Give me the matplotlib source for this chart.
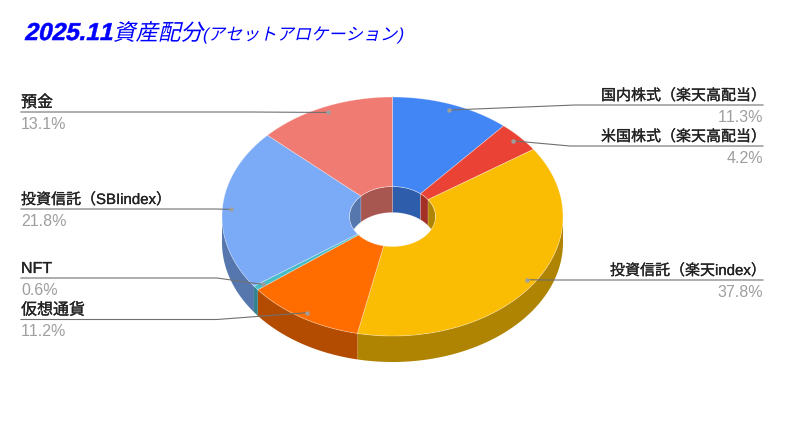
import numpy as np
from matplotlib import pyplot as plt
from matplotlib.patches import Polygon, Ellipse
from matplotlib.patheffects import AbstractPathEffect, withStroke
from matplotlib.transforms import Affine2D

names = ['国内株式（楽天高配当）', '米国株式（楽天高配当）', '投資信託（楽天index）', '仮想通貨', 'NFT', '投資信託（SBIindex）', '預金']
shares = [11.3, 4.2, 37.8, 11.2, 0.6, 21.8, 13.1]
colors = ['#4285f4', '#ea4335', '#fbbc04', '#ff6d01', '#46bdc6', '#7baaf7', '#f07b72']

plt.rcParams['text.kerning_factor'] = 6

# 画布上的饼图几何
CX, CY = 392.5, 216.5
RX, RY = 170.5, 119.5
HX, HY = 43.0, 30.0
DEPTH = 26.0
LINE_COLOR = '#707070'
FONT = ['Liberation Sans', 'Noto Sans CJK JP']
PX = 0.72  # 100dpi下 1px 对应的磅数

# 引线: 水平线的高度, 水平线到哪里, 文字靠哪边
leaders = [
    (105, 575, 'right'),
    (146, 570, 'right'),
    (280, 545, 'right'),
    (319.5, 217, 'left'),
    (278, 217, 'left'),
    (209, 215, 'left'),
    (112, 250, 'left'),
]


class Slant(AbstractPathEffect):
    """让CJK字体也能倾斜显示, heavy>0 时再描一圈加粗"""

    def __init__(self, y0, deg=13, heavy=0.0):
        super().__init__()
        self.y0 = y0
        self.deg = deg
        self.heavy = heavy

    def draw_path(self, renderer, gc, tpath, affine, rgbFace=None):
        skew = Affine2D().translate(0, -self.y0).skew_deg(self.deg, 0).translate(0, self.y0)
        if self.heavy:
            gc0 = renderer.new_gc()
            gc0.copy_properties(gc)
            gc0.set_foreground(rgbFace)
            gc0.set_linewidth(self.heavy)
            renderer.draw_path(gc0, tpath, affine + skew, rgbFace)
            gc0.restore()
        else:
            renderer.draw_path(gc, tpath, affine + skew, rgbFace)


def rgb_dark(c, k=0.7):
    r, g, b = plt.matplotlib.colors.to_rgb(c)
    return (r * k, g * k, b * k)


def arc(t0, t1, rx, ry, dy=0.0):
    """角度从12点方向顺时针计算"""
    t = np.radians(np.linspace(t0, t1, max(int(abs(t1 - t0)) * 2, 2)))
    return np.column_stack([CX + rx * np.sin(t), CY - ry * np.cos(t) + dy])


fig = plt.figure(figsize=(7.85, 4.21), dpi=100)
ax = fig.add_axes([0, 0, 1, 1])
ax.set_xlim(0, 785)
ax.set_ylim(421, 0)
ax.axis('off')

edges = np.concatenate([[0], np.cumsum(shares)])
edges = edges / edges[-1] * 360
hole = Ellipse((CX, CY), HX * 2, HY * 2, fc='none', ec='none')
ax.add_patch(hole)

for i, c in enumerate(colors):
    t0, t1 = edges[i], edges[i + 1]
    dark = rgb_dark(c)

    # 外侧面 (只有前半圈看得见)
    a, b = max(t0, 90), min(t1, 270)
    if a < b:
        top = arc(a, b, RX, RY)
        low = arc(a, b, RX, RY, DEPTH)
        ax.add_patch(Polygon(np.vstack([top, low[::-1]]), fc=dark, ec='none', zorder=1))

    # 内侧面 (只有后半圈看得见)
    for a, b in [(max(t0, 0), min(t1, 90)), (max(t0, 270), min(t1, 360))]:
        if a < b:
            top = arc(a, b, HX, HY)
            low = arc(a, b, HX, HY, DEPTH)
            p = Polygon(np.vstack([top, low[::-1]]), fc=dark, ec=(1, 1, 1, 0.25), lw=0.5, zorder=1)
            ax.add_patch(p)
            p.set_clip_path(hole)

    # 顶面
    outer = arc(t0, t1, RX, RY)
    inner = arc(t0, t1, HX, HY)
    ax.add_patch(Polygon(np.vstack([outer, inner[::-1]]), fc=c, ec=(1, 1, 1, 0.35), lw=0.6, zorder=2))

for i, name in enumerate(names):
    mid = np.radians((edges[i] + edges[i + 1]) / 2)
    dot_x = CX + 0.95 * RX * np.sin(mid)
    dot_y = CY - 0.95 * RY * np.cos(mid)
    line_y, elbow_x, side = leaders[i]
    end_x = 763 if side == 'right' else 21
    ax.plot([end_x, elbow_x, dot_x], [line_y, line_y, dot_y], color=LINE_COLOR, lw=0.8, zorder=3)
    ax.plot([dot_x], [dot_y], 'o', color='#9e9e9e', ms=3.2, mew=0, zorder=4)

    # 全角括号右边有空白, 所以靠右的文字往外挪一点
    size = 15 if len(name) >= 11 else 16
    name_x = end_x + (3 if size == 15 else 6) if side == 'right' else end_x
    ax.text(name_x, line_y - 5, name, ha=side, va='baseline', fontsize=size * PX, color='#222222', family=FONT,
            zorder=5, path_effects=[withStroke(linewidth=0.2, foreground='#222222')])
    ax.text(end_x, line_y + 17, f'{shares[i]}%', ha=side, va='baseline', fontsize=16 * PX, color='#9e9e9e',
            family=FONT, zorder=5)

# 标题分三段, 数字粗体, 片假名略小
title_y = 40
h = 421 - title_y
ax.text(24, title_y, '2025.11', fontsize=17.6, weight='bold', color='#0000ff', family=FONT, va='baseline',
        path_effects=[Slant(h, heavy=0.4)])
ax.text(113, title_y, '資産配分', fontsize=16.2, color='#0000ff', family=FONT, va='baseline',
        path_effects=[Slant(h)])
ax.text(202, title_y, '(アセットアロケーション)', fontsize=12.4, color='#0000ff', family=FONT, va='baseline',
        path_effects=[Slant(h)])

fig.savefig('out.png', dpi=100)
